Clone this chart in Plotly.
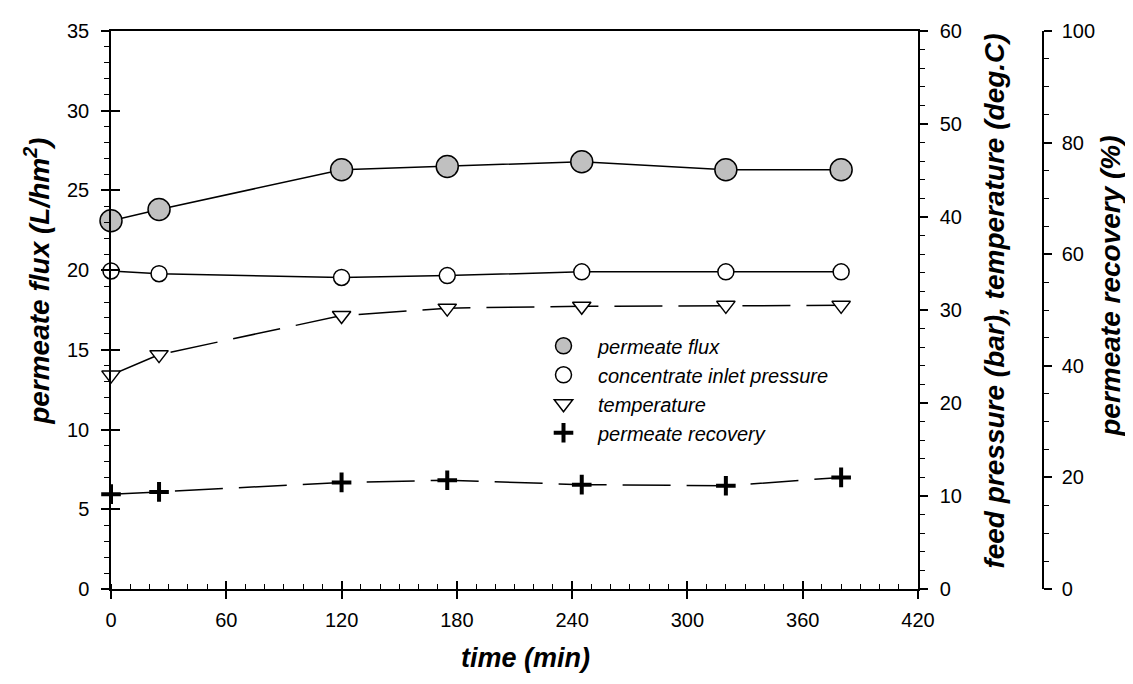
import plotly.graph_objects as go

# ---------------- data ----------------
time_min = [0, 25, 120, 175, 245, 320, 380]
permeate_flux = [23.1, 23.8, 26.3, 26.5, 26.8, 26.3, 26.3]          # L/hm2 (left axis)
inlet_pressure = [34.2, 33.9, 33.5, 33.7, 34.1, 34.1, 34.1]         # bar (right axis 1)
temperature = [23.0, 25.2, 29.4, 30.2, 30.4, 30.5, 30.5]            # deg.C (right axis 1)
permeate_recovery = [17.0, 17.4, 19.1, 19.5, 18.7, 18.5, 20.0]      # % (right axis 2)

series_names = ["permeate flux", "concentrate inlet pressure", "temperature", "permeate recovery"]

x_ticks = [0, 60, 120, 180, 240, 300, 360, 420]

FONT = "Liberation Sans, Arial, sans-serif"

# ---------------- figure geometry ----------------
# the page body has an 8px margin, so the figure starts at (8, 8) in the window
OFF = 8
WIN_W, WIN_H = 1133, 684
W, H = WIN_W - 2 * OFF, WIN_H - 2 * OFF
plot_left, plot_top, plot_bottom = 111, 24, 589      # window pixels
far_right = 1043                                      # second right axis (window px)
main_right = 918                                      # main plot right edge (window px)
L = plot_left - OFF
T = plot_top - OFF
R = W - (far_right - OFF)
B = H - (plot_bottom - OFF)
paper_w = far_right - plot_left
paper_h = plot_bottom - plot_top
x_dom_end = (main_right - plot_left) / paper_w

def px_x(p):
    return (p - plot_left) / paper_w

def px_y(p):
    return (plot_bottom - p) / paper_h

fig = go.Figure()

flux_marker = dict(symbol="circle", size=22, color="#c0c0c0", line=dict(color="black", width=1.5))
pres_marker = dict(symbol="circle", size=16, color="white", line=dict(color="black", width=1.5))
temp_marker = dict(symbol="triangle-down", size=16, color="white", line=dict(color="black", width=1.5))
rec_marker = dict(symbol="cross-thin", size=14, color="black", line=dict(color="black", width=4))

fig.add_trace(go.Scatter(x=time_min, y=temperature, mode="lines+markers", yaxis="y2",
                         line=dict(color="black", width=1.5, dash="48px,16px"),
                         marker=temp_marker, cliponaxis=False, showlegend=False))
fig.add_trace(go.Scatter(x=time_min, y=inlet_pressure, mode="lines+markers", yaxis="y2",
                         line=dict(color="black", width=1.5),
                         marker=pres_marker, cliponaxis=False, showlegend=False))
fig.add_trace(go.Scatter(x=time_min, y=permeate_recovery, mode="lines+markers", yaxis="y3",
                         line=dict(color="black", width=1.5, dash="48px,16px"),
                         marker=rec_marker, cliponaxis=False, showlegend=False))
fig.add_trace(go.Scatter(x=time_min, y=permeate_flux, mode="lines+markers", yaxis="y",
                         line=dict(color="black", width=1.5),
                         marker=flux_marker, cliponaxis=False, showlegend=False))

# legend-only entries (markers only)
for name, mk in zip(series_names, [flux_marker, pres_marker, temp_marker, rec_marker]):
    fig.add_trace(go.Scatter(x=[None], y=[None], mode="markers", name=name, marker=mk, showlegend=True))

# dummy traces for overlay tick axes (crossing ticks)
fig.add_trace(go.Scatter(x=[None], y=[None], xaxis="x2", yaxis="y", showlegend=False, hoverinfo="skip"))
fig.add_trace(go.Scatter(x=[None], y=[None], xaxis="x", yaxis="y4", showlegend=False, hoverinfo="skip"))

axis_common = dict(showgrid=False, zeroline=False, linecolor="black", linewidth=1.5,
                   tickcolor="black", tickwidth=1.5,
                   tickfont=dict(family=FONT, size=20, color="black"))

fig.update_layout(
    width=W, height=H,
    margin=dict(l=L, r=R, t=T, b=B),
    paper_bgcolor="white", plot_bgcolor="white",
    font=dict(family=FONT, color="black"),
    xaxis=dict(domain=[0, x_dom_end], range=[0, 420], tickvals=x_ticks, ticks="outside", ticklen=8,
               showline=True, mirror=True, ticklabelstandoff=4,
               minor=dict(dtick=10, ticks="inside", ticklen=5, tickcolor="black", tickwidth=1.2),
               **axis_common),
    xaxis2=dict(domain=[0, x_dom_end], range=[0, 420], overlaying="x", anchor="y", side="bottom",
                tickvals=x_ticks, ticks="inside", ticklen=8, showticklabels=False, showline=False,
                showgrid=False, zeroline=False, tickcolor="black", tickwidth=1.5),
    yaxis=dict(range=[0, 35], dtick=5, ticks="outside", ticklen=8, showline=True, ticklabelstandoff=8,
               minor=dict(dtick=1, ticks="outside", ticklen=5, tickcolor="black", tickwidth=1.2),
               anchor="x", **axis_common),
    yaxis4=dict(range=[0, 35], dtick=5, ticks="inside", ticklen=9, overlaying="y", anchor="x", side="left",
                showticklabels=False, showline=False, showgrid=False, zeroline=False,
                tickcolor="black", tickwidth=1.5),
    yaxis2=dict(range=[0, 60], dtick=10, ticks="outside", ticklen=8, showline=True, overlaying="y",
                anchor="x", side="right", ticklabelstandoff=8,
                minor=dict(dtick=2, ticks="outside", ticklen=5, tickcolor="black", tickwidth=1.2),
                **axis_common),
    yaxis3=dict(range=[0, 100], dtick=20, ticks="outside", ticklen=8, showline=True, overlaying="y",
                anchor="free", position=1.0, side="right", ticklabelstandoff=6,
                minor=dict(dtick=5, ticks="outside", ticklen=5, tickcolor="black", tickwidth=1.2),
                **axis_common),
    legend=dict(x=px_x(529), y=px_y(323), xanchor="left", yanchor="top",
                bgcolor="rgba(0,0,0,0)", itemwidth=59, tracegroupgap=0,
                font=dict(family=FONT, size=20, color="black", style="italic")),
)

title_font = dict(family=FONT, size=27, color="black")
vtitle_font = dict(family=FONT, size=28, color="black")
fig.add_annotation(text="<b><i>time (min)</i></b>", xref="paper", yref="paper",
                   x=px_x(525), y=px_y(659), showarrow=False, font=title_font,
                   xanchor="center", yanchor="middle")
fig.add_annotation(text="<b><i>permeate flux (L/hm<sup>2</sup>)</i></b>", xref="paper", yref="paper",
                   x=px_x(37), y=px_y(278), showarrow=False, font=vtitle_font, textangle=-90,
                   xanchor="center", yanchor="middle")
fig.add_annotation(text="<b><i>feed pressure (bar), temperature (deg.C)</i></b>", xref="paper", yref="paper",
                   x=px_x(995), y=px_y(298), showarrow=False, font=vtitle_font, textangle=-90,
                   xanchor="center", yanchor="middle")
fig.add_annotation(text="<b><i>permeate recovery (%)</i></b>", xref="paper", yref="paper",
                   x=px_x(1111), y=px_y(283), showarrow=False, font=vtitle_font, textangle=-90,
                   xanchor="center", yanchor="middle")

fig.write_html("out.html")
